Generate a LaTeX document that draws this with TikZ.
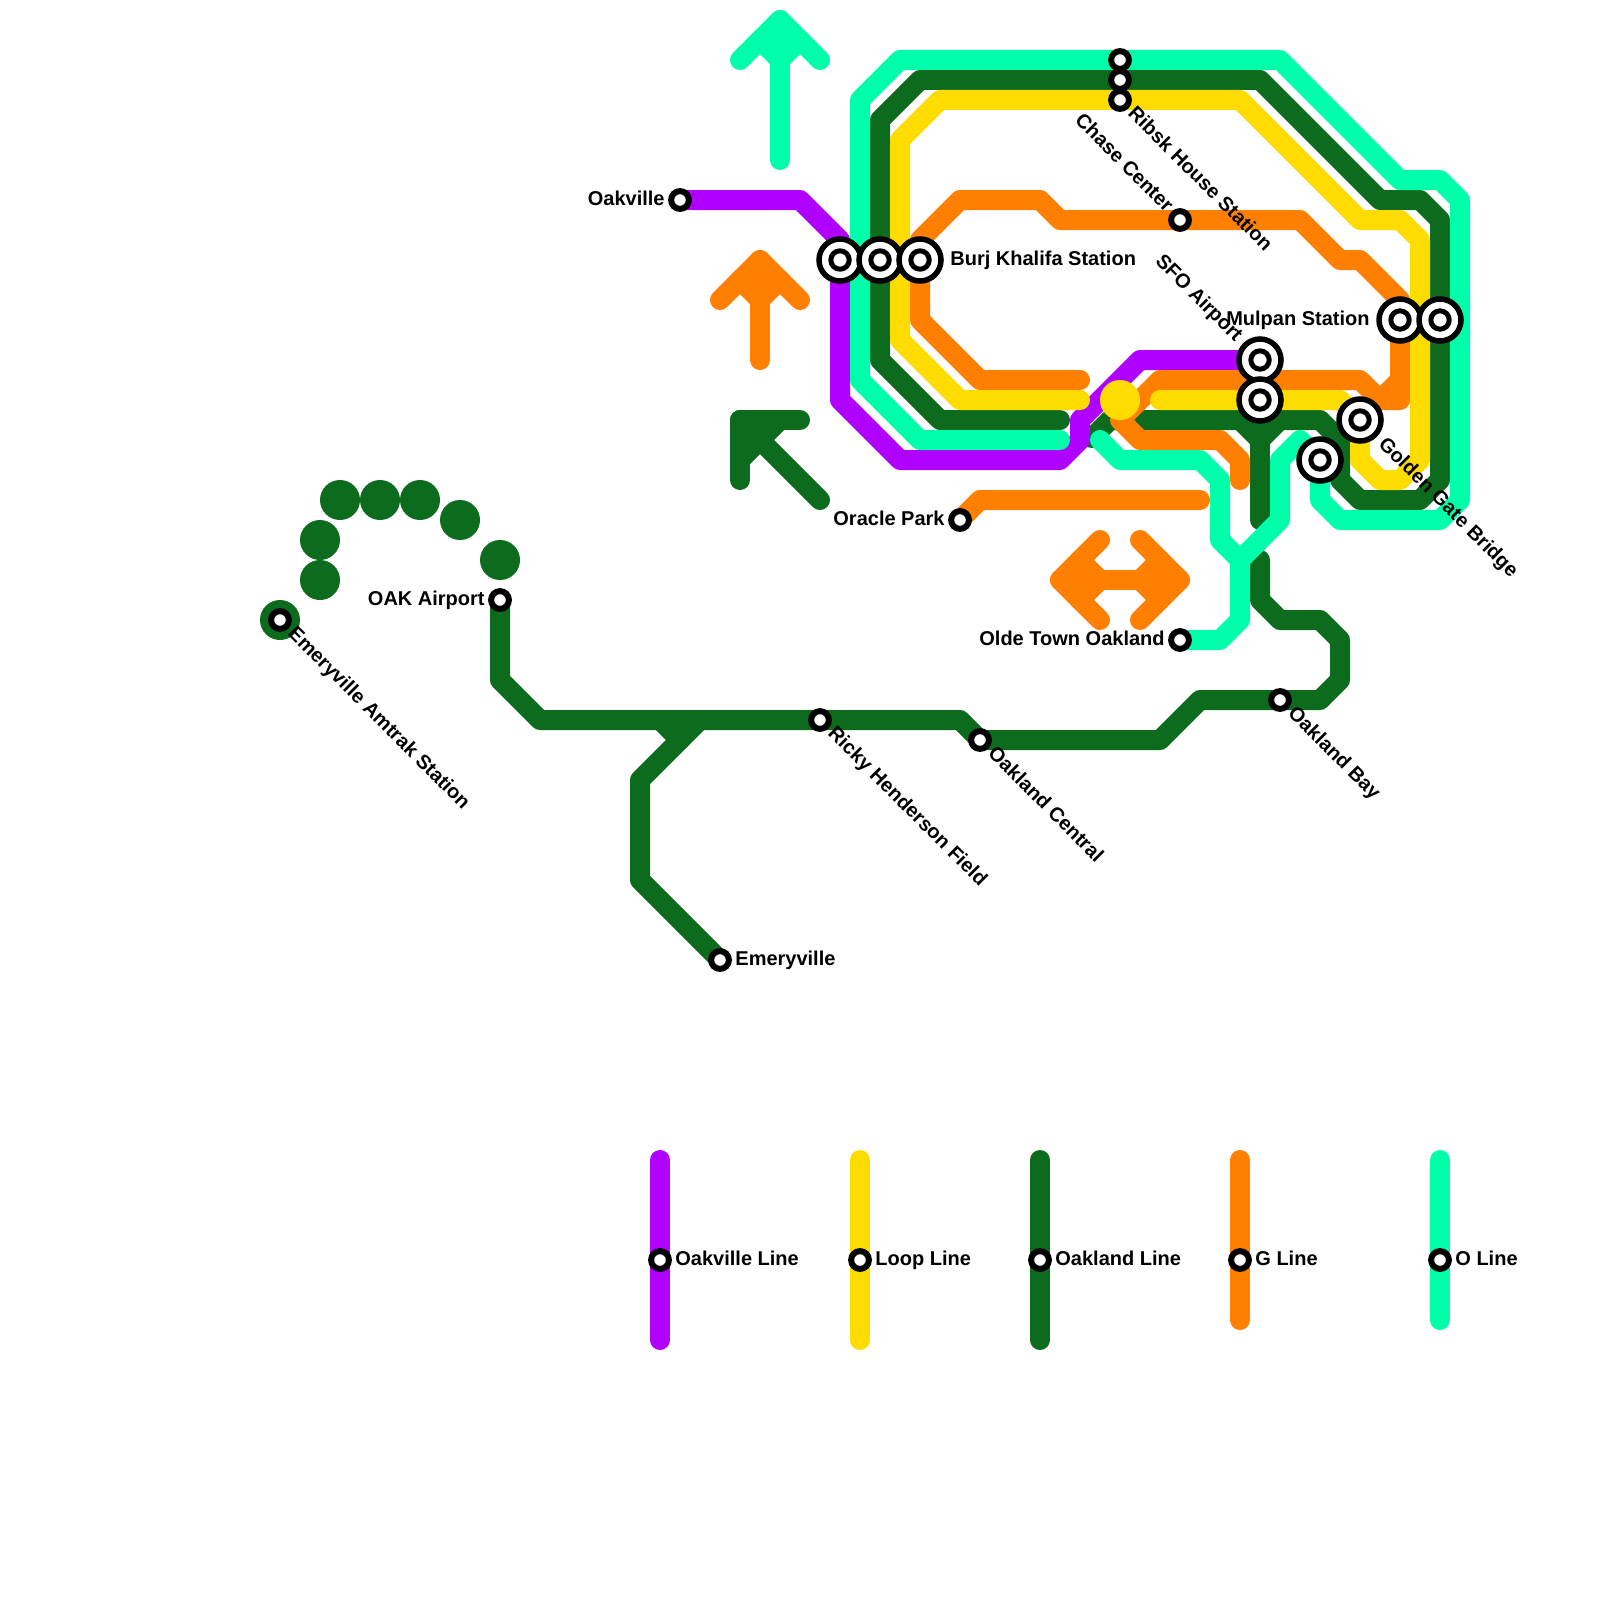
\documentclass[tikz,border=0pt]{standalone}
\usepackage{fontspec}
\setmainfont{Liberation Sans}
\definecolor{purpleLine}{HTML}{B000FF}
\definecolor{loopLine}{HTML}{FFDC00}
\definecolor{oakLine}{HTML}{0C6B1C}
\definecolor{gLine}{HTML}{FF7F00}
\definecolor{oLine}{HTML}{00FFAA}
\tikzset{
  metro/.style={line width=10pt,line cap=round,line join=round},
  dotstop/.style={circle,fill=#1,draw=none,inner sep=0pt,minimum size=20pt},
  smallstop/.style={circle,draw=black,fill=white,line width=3pt,inner sep=0pt,minimum size=8.9pt},
  hubouter/.style={circle,draw=black,fill=white,line width=2.75pt,inner sep=0pt,minimum size=21pt},
  hubinner/.style={circle,draw=black,fill=white,line width=2.5pt,inner sep=0pt,minimum size=9.2pt},
  lab/.style={font=\fontsize{10}{12}\selectfont\bfseries,text=black,inner sep=0pt},
  labR/.style={lab,anchor=base west,shift={(15,5)}},
  labL/.style={lab,anchor=base east,shift={(-15,5)}},
  hubR/.style={lab,anchor=base west,shift={(30,5)}},
  hubL/.style={lab,anchor=base east,shift={(-30,5)}},
  diagR/.style={lab,anchor=base west,shift={(6.8,14.4)},rotate=-45},
  diagL/.style={lab,anchor=base east,shift={(-14.4,-6.8)},rotate=-45},
  hubDiagR/.style={lab,anchor=base west,shift={(17.4,25)},rotate=-45},
  hubDiagL/.style={lab,anchor=base east,shift={(-25,-17.4)},rotate=-45},
}
\newcommand{\hubstop}[2]{\node[hubouter] (#1) at (#2) {}; \node[hubinner] (#1i) at (#2) {};}
\begin{document}
\begin{tikzpicture}[x=0.5pt,y=-0.5pt]
\fill[white] (0,0) rectangle (1600,1600);
\useasboundingbox (0,0) rectangle (1600,1600);
% station positions
\coordinate (oakville) at (680,200);
\coordinate (burjA) at (840,260);
\coordinate (burjB) at (880,260);
\coordinate (burjC) at (920,260);
\coordinate (mulA) at (1400,320);
\coordinate (mulB) at (1440,320);
\coordinate (sfoA) at (1260,360);
\coordinate (sfoB) at (1260,400);
\coordinate (gateA) at (1360,420);
\coordinate (gateB) at (1320,460);
\coordinate (ribA) at (1120,60);
\coordinate (ribB) at (1120,80);
\coordinate (ribC) at (1120,100);
\coordinate (chase) at (1180,220);
\coordinate (oracle) at (960,520);
\coordinate (olde) at (1180,640);
\coordinate (bay) at (1280,700);
\coordinate (central) at (980,740);
\coordinate (ricky) at (820,720);
\coordinate (airport) at (500,600);
\coordinate (amtrak) at (280,620);
\coordinate (emery) at (720,960);
\coordinate (legP) at (660,1260);
\coordinate (legY) at (860,1260);
\coordinate (legD) at (1040,1260);
\coordinate (legG) at (1240,1260);
\coordinate (legO) at (1440,1260);
% Oakland line
\begin{scope}[metro,draw=oakLine]
\draw (1060,420) -- (940,420) -- (880,360) -- (880,120) -- (920,80) -- (ribB) -- (1260,80) -- (1380,200) -- (1420,200) -- (1440,220) -- (1440,480) -- (1420,500) -- (1360,500) -- (1340,480) -- (1340,440) -- (1320,420) -- (1110,420) -- (1092,438);
\draw (1240,420) -- (1260,440) -- (1280,420);
\draw (sfoB) -- (1260,520);
\draw (1260,560) -- (1260,600) -- (1280,620) -- (1320,620) -- (1340,640) -- (1340,680) -- (1320,700) -- (bay) -- (1200,700) -- (1160,740) -- (central) -- (960,720) -- (ricky) -- (540,720) -- (500,680) -- (airport);
\draw (660,720) -- (680,740) -- (700,720);
\draw (680,740) -- (640,780) -- (640,880) -- (emery);
\draw (740,480) -- (740,420) -- (800,420);
\draw (740,460) -- (780,420);
\draw (740,420) -- (820,500);
\draw (1040,1160) -- (legD) -- (1040,1340);
\end{scope}
% Oakville line
\begin{scope}[metro,draw=purpleLine]
\draw (oakville) -- (800,200) -- (840,240) -- (burjA) -- (840,400) -- (900,460) -- (1060,460) -- (1080,440) -- (1080,420) -- (1140,360) -- (sfoA);
\draw (660,1160) -- (legP) -- (660,1340);
\end{scope}
% G line
\begin{scope}[metro,draw=gLine]
\draw (burjC) -- (920,240) -- (960,200) -- (1040,200) -- (1060,220) -- (chase) -- (1300,220) -- (1340,260) -- (1360,260) -- (1400,300) -- (mulA);
\draw (burjC) -- (920,320) -- (980,380) -- (1080,380);
\draw (1240,480) -- (1240,460) -- (1220,440) -- (1140,440) -- (1120,420) -- (1160,380) -- (1360,380) -- (1380,400) -- (1400,400) -- (mulA);
\draw (1380,400) -- (1400,380);
\draw (oracle) -- (980,500) -- (1200,500);
\draw (720,300) -- (760,260) -- (800,300);
\draw (740,280) -- (760,300) -- (780,280);
\draw (760,360) -- (760,260);
\draw (1100,540) -- (1060,580) -- (1100,620);
\draw (1080,560) -- (1100,580) -- (1080,600);
\draw (1140,540) -- (1180,580) -- (1140,620);
\draw (1160,560) -- (1140,580) -- (1160,600);
\draw (1060,580) -- (1180,580);
\draw (1240,1160) -- (legG) -- (1240,1320);
\end{scope}
% Loop line
\begin{scope}[metro,draw=loopLine]
\draw (1080,400) -- (960,400) -- (900,340) -- (900,140) -- (940,100) -- (ribC) -- (1240,100) -- (1360,220) -- (1400,220) -- (1420,240) -- (1420,460) -- (1400,480) -- (1380,480) -- (1360,460) -- (gateA);
\draw (1160,400) -- (sfoB) -- (1340,400) -- (gateA);
\draw (860,1160) -- (legY) -- (860,1340);
\end{scope}
% O line
\begin{scope}[metro,draw=oLine]
\draw (1060,440) -- (920,440) -- (860,380) -- (860,100) -- (900,60) -- (ribA) -- (1280,60) -- (1400,180) -- (1440,180) -- (1460,200) -- (1460,500) -- (1440,520) -- (1340,520) -- (1320,500) -- (gateB);
\draw (1100,440) -- (1120,460) -- (1200,460) -- (1220,480) -- (1220,540) -- (1240,560) -- (1240,620) -- (1220,640) -- (olde);
\draw (1240,560) -- (1280,520) -- (1280,460) -- (1300,440) -- (gateB);
\draw (780,160) -- (780,20);
\draw (740,60) -- (780,20) -- (820,60);
\draw (760,40) -- (780,60) -- (800,40);
\draw (1440,1160) -- (legO) -- (1440,1320);
\end{scope}
% isolated stops
\node[dotstop=oakLine] (d1) at (amtrak) {};
\node[dotstop=oakLine] (d2) at (320,580) {};
\node[dotstop=oakLine] (d3) at (320,540) {};
\node[dotstop=oakLine] (d4) at (340,500) {};
\node[dotstop=oakLine] (d5) at (380,500) {};
\node[dotstop=oakLine] (d6) at (420,500) {};
\node[dotstop=oakLine] (d7) at (460,520) {};
\node[dotstop=oakLine] (d8) at (500,560) {};
\node[dotstop=loopLine] (d9) at (1120,400) {};
% hubs
\hubstop{hBurjA}{burjA}
\hubstop{hBurjB}{burjB}
\hubstop{hBurjC}{burjC}
\hubstop{hMulA}{mulA}
\hubstop{hMulB}{mulB}
\hubstop{hSfoA}{sfoA}
\hubstop{hSfoB}{sfoB}
\hubstop{hGateA}{gateA}
\hubstop{hGateB}{gateB}
% small stops
\foreach \s in {oakville,ribA,ribB,ribC,chase,oracle,olde,bay,central,ricky,airport,amtrak,emery,legP,legY,legD,legG,legO}
  \node[smallstop] (s\s) at (\s) {};
% labels
\node[labL] (tOakville) at (oakville) {Oakville};
\node[hubR] (tBurj) at (burjC) {Burj Khalifa Station};
\node[hubL] (tMulpan) at (mulA) {Mulpan Station};
\node[hubDiagL] (tSfo) at (sfoA) {SFO Airport};
\node[hubDiagR] (tGate) at (gateA) {Golden Gate Bridge};
\node[diagR] (tRibsk) at (ribC) {Ribsk House Station};
\node[diagL] (tChase) at (chase) {Chase Center};
\node[labL] (tOracle) at (oracle) {Oracle Park};
\node[labL] (tOlde) at (olde) {Olde Town Oakland};
\node[diagR] (tBay) at (bay) {Oakland Bay};
\node[diagR] (tCentral) at (central) {Oakland Central};
\node[diagR] (tRicky) at (ricky) {Ricky Henderson Field};
\node[labL] (tAirport) at (airport) {OAK Airport};
\node[diagR] (tAmtrak) at (amtrak) {Emeryville Amtrak Station};
\node[labR] (tEmery) at (emery) {Emeryville};
\node[labR] (tLegP) at (legP) {Oakville Line};
\node[labR] (tLegY) at (legY) {Loop Line};
\node[labR] (tLegD) at (legD) {Oakland Line};
\node[labR] (tLegG) at (legG) {G Line};
\node[labR] (tLegO) at (legO) {O Line};
\end{tikzpicture}
\end{document}
